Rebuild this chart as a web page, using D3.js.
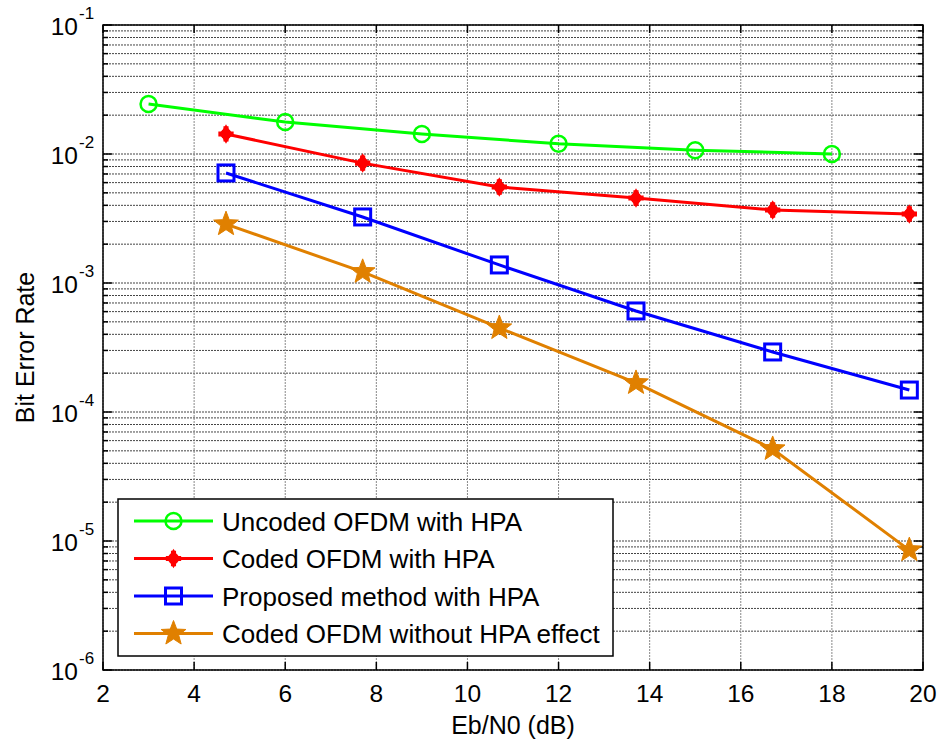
<!DOCTYPE html>
<html><head><meta charset="utf-8">
<script src="https://cdn.jsdelivr.net/npm/d3@7"></script>
<style>body{margin:0;background:#fff;} svg{display:block;font-family:"Liberation Sans",Arial,sans-serif;}</style>
</head><body>
<svg id="c" width="942" height="746"></svg>
<script>
const xTicks = [2,4,6,8,10,12,14,16,18,20];
const yExps = [-1,-2,-3,-4,-5,-6];
const seriesNames = ["Uncoded OFDM with HPA","Coded OFDM with HPA","Proposed method with HPA","Coded OFDM without HPA effect"];
const seriesColors = ["#00ff00","#ff0000","#0000ff","#e08000"];
const xUncoded = [3,6,9,12,15,18];
const yUncoded = [0.0244,0.0177,0.0143,0.0120,0.0107,0.0100];
const xCoded = [4.7,7.7,10.7,13.7,16.7,19.7];
const yCoded = [0.0143,0.0085,0.00555,0.00456,0.00368,0.00343];
const yProposed = [0.00713,0.00325,0.00138,0.000607,0.000292,0.000148];
const yNoHPA = [0.00286,0.00122,0.000448,0.000168,0.0000517,0.0000085];

const series = [
  {name:seriesNames[0], color:seriesColors[0], m:"circle", xs:xUncoded, ys:yUncoded},
  {name:seriesNames[1], color:seriesColors[1], m:"ast", xs:xCoded, ys:yCoded},
  {name:seriesNames[2], color:seriesColors[2], m:"square", xs:xCoded, ys:yProposed},
  {name:seriesNames[3], color:seriesColors[3], m:"star", xs:xCoded, ys:yNoHPA}
];

const L=103, R=923, T=25, B=670;
const svg = d3.select("#c");
const x = d3.scaleLinear().domain([2,20]).range([L,R]);
const y = d3.scaleLog().domain([1e-6,1e-1]).range([B,T]);

// grid
const g = svg.append("g");
const minorVals = [];
for (let e=-6;e<-1;e++) for (let k=1;k<=9;k++) minorVals.push(k*Math.pow(10,e));
minorVals.push(1e-1);
g.selectAll("line.hg").data(minorVals).enter().append("line")
  .attr("x1",L).attr("x2",R).attr("y1",d=>y(d)).attr("y2",d=>y(d))
  .attr("stroke","#444").attr("stroke-width",1).attr("stroke-dasharray","2,1");
g.selectAll("line.vg").data(xTicks).enter().append("line")
  .attr("x1",d=>x(d)).attr("x2",d=>x(d)).attr("y1",T).attr("y2",B)
  .attr("stroke","#888").attr("stroke-width",1).attr("stroke-dasharray","2,1");

// axes ticks
const ax = svg.append("g").attr("stroke","#000");
xTicks.forEach(v=>{
  ax.append("line").attr("x1",x(v)).attr("x2",x(v)).attr("y1",B).attr("y2",B-8).attr("stroke-width",1.5);
  ax.append("line").attr("x1",x(v)).attr("x2",x(v)).attr("y1",T).attr("y2",T+8).attr("stroke-width",1.5);
});
minorVals.forEach(v=>{
  const maj = Math.abs(Math.log10(v)-Math.round(Math.log10(v)))<1e-9;
  const len = maj?9:5;
  ax.append("line").attr("x1",L).attr("x2",L+len).attr("y1",y(v)).attr("y2",y(v)).attr("stroke-width",1.5);
  ax.append("line").attr("x1",R).attr("x2",R-len).attr("y1",y(v)).attr("y2",y(v)).attr("stroke-width",1.5);
});
svg.append("rect").attr("x",L).attr("y",T).attr("width",R-L).attr("height",B-T)
  .attr("fill","none").attr("stroke","#000").attr("stroke-width",1.5);

// tick labels
svg.append("g").selectAll("text").data(xTicks).enter().append("text")
  .attr("x",d=>x(d)).attr("y",B+32).attr("text-anchor","middle")
  .attr("font-size",24.5).text(d=>d);
const yl = svg.append("g");
yExps.forEach(e=>{
  const yy = y(Math.pow(10,e));
  yl.append("text").attr("x",78).attr("y",yy+10).attr("text-anchor","end").attr("font-size",24.5).text("10");
  yl.append("text").attr("x",79).attr("y",yy-6).attr("text-anchor","start").attr("font-size",17).text(String(e));
});

// axis labels
svg.append("text").attr("x",(L+R)/2).attr("y",734).attr("text-anchor","middle").attr("font-size",25).text("Eb/N0 (dB)");
svg.append("text").attr("transform",`translate(34,${(T+B)/2}) rotate(-90)`).attr("text-anchor","middle").attr("font-size",25).text("Bit Error Rate");

// markers
function starPath(cx,cy,ro,ri){
  const pts=[];
  for(let i=0;i<10;i++){const r=i%2?ri:ro; const a=-Math.PI/2+i*Math.PI/5; pts.push([cx+r*Math.cos(a),cy+r*Math.sin(a)]);}
  return "M"+pts.map(p=>p.join(",")).join("L")+"Z";
}
function marker(sel,m,cx,cy,color){
  if(m==="circle") sel.append("circle").attr("cx",cx).attr("cy",cy).attr("r",8).attr("fill","none").attr("stroke",color).attr("stroke-width",2.5);
  else if(m==="square") sel.append("rect").attr("x",cx-8).attr("y",cy-8).attr("width",16).attr("height",16).attr("fill","none").attr("stroke",color).attr("stroke-width",3);
  else if(m==="star") sel.append("path").attr("d",starPath(cx,cy,13,5.5)).attr("fill",color).attr("stroke",color).attr("stroke-width",1);
  else if(m==="ast"){
    sel.append("path").attr("d",d3.symbol(d3.symbolDiamond,110)()).attr("transform",`translate(${cx},${cy})`).attr("fill",color);
    sel.append("path").attr("d",d3.symbol(d3.symbolCross,130)()).attr("transform",`translate(${cx},${cy})`).attr("fill",color);
    sel.append("circle").attr("cx",cx).attr("cy",cy).attr("r",5.5).attr("fill",color);
  }
}
const line = d3.line().x(d=>x(d[0])).y(d=>y(d[1]));
series.forEach(s=>{
  const pts = s.xs.map((v,i)=>[v,s.ys[i]]);
  svg.append("path").attr("d",line(pts)).attr("fill","none").attr("stroke",s.color).attr("stroke-width",3);
  const mg = svg.append("g");
  pts.forEach(p=>marker(mg,s.m,x(p[0]),y(p[1]),s.color));
});

// legend
const lg = svg.append("g");
lg.append("rect").attr("x",118).attr("y",499).attr("width",495).attr("height",157).attr("fill","#fff").attr("stroke","#000").attr("stroke-width",1.5);
series.forEach((s,i)=>{
  const yy = 521 + i*37.5;
  lg.append("line").attr("x1",134).attr("x2",213).attr("y1",yy).attr("y2",yy).attr("stroke",s.color).attr("stroke-width",3);
  marker(lg,s.m,173.5,yy,s.color);
  lg.append("text").attr("x",222).attr("y",yy+9.5).attr("font-size",26).text(s.name);
});
</script>
</body></html>
